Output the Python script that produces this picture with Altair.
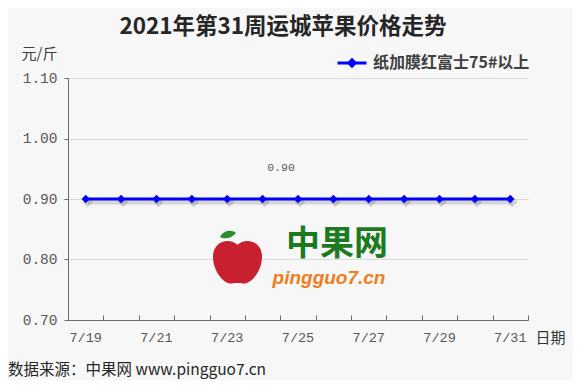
import json
import altair as alt
import pandas as pd

# ---- data ----
dates = ['7/19', '7/20', '7/21', '7/22', '7/23', '7/24', '7/25',
         '7/26', '7/27', '7/28', '7/29', '7/30', '7/31']
prices = [0.90, 0.90, 0.90, 0.90, 0.90, 0.90, 0.90,
          0.90, 0.90, 0.90, 0.90, 0.90, 0.90]
series_name = '纸加膜红富士75#以上'
label_dates = ['7/19', '7/21', '7/23', '7/25', '7/27', '7/29', '7/31']
y_ticks = [0.70, 0.80, 0.90, 1.00, 1.10]
y_domain = [0.70, 1.10]
labeled_date = '7/25'
title_text = '2021年第31周运城苹果价格走势'
footer_text = '数据来源：中果网 www.pingguo7.cn'

df = pd.DataFrame({'date': dates, 'price': prices, 'series': series_name})
one = pd.DataFrame({'k': [0]})

CJK = 'Noto Sans CJK SC'
MONO = 'Liberation Mono'
BLUE = '#0000ff'
LABEL_GRAY = '#595959'
AXIS_GRAY = '#6b6b6b'

x_scale = alt.Scale(type='band', domain=dates, paddingInner=0, paddingOuter=0)
y_scale = alt.Scale(domain=y_domain, nice=False, zero=False)

label_expr = "indexof(" + json.dumps(label_dates) + ", datum.value) >= 0 ? datum.label : ''"

x_main = alt.X('date:N', sort=dates, scale=x_scale, axis=alt.Axis(
    orient='bottom', title='日期', titleAngle=0, titleX=467, titleY=22,
    titleAlign='left', titleBaseline='alphabetic', titleFont=CJK,
    titleFontSize=15, titleFontWeight='normal', titleColor='#333333',
    labelExpr=label_expr, labelAngle=0, labelFont=MONO, labelFontSize=13.5,
    labelColor=LABEL_GRAY, labelPadding=10, labelBaseline='top',
    ticks=False, domainColor=AXIS_GRAY, domainWidth=1, grid=False))

x_ticks = alt.X('date:N', sort=dates, scale=x_scale, axis=alt.Axis(
    orient='bottom', offset=-5, domain=False, labels=False, ticks=True,
    tickSize=5, tickBand='extent', tickColor=AXIS_GRAY, tickWidth=1,
    title=None, grid=False))

x_none = alt.X('date:N', sort=dates, scale=x_scale, axis=None)

y_enc = alt.Y('price:Q', scale=y_scale, axis=alt.Axis(
    values=y_ticks, format='.2f', title='元/斤', titleAngle=0,
    titleX=-47, titleY=-20, titleAlign='left', titleBaseline='alphabetic',
    titleFont=CJK, titleFontSize=15, titleFontWeight='normal',
    titleColor='#404040', labelFont=MONO, labelFontSize=14.5,
    labelColor=LABEL_GRAY, labelPadding=7, tickSize=4, tickColor=AXIS_GRAY,
    domainColor=AXIS_GRAY, gridColor='#d9d9d9', gridWidth=1, grid=True))

LEGEND_PATH = 'M-1,0L1,0M0,-0.22L0.22,0L0,0.22L-0.22,0Z'

base = alt.Chart(df)

shadow_line = base.mark_line(color='#000000', opacity=0.13, strokeWidth=5,
                             xOffset=2, yOffset=3).encode(x=x_none, y=y_enc)
shadow_pts = base.mark_point(shape='diamond', filled=True, color='#000000',
                             opacity=0.15, size=110, xOffset=2, yOffset=3
                             ).encode(x=x_none, y=y_enc)

line = base.mark_line(strokeWidth=3).encode(
    x=x_main, y=y_enc,
    color=alt.Color('series:N', scale=alt.Scale(domain=[series_name], range=[BLUE]),
                    legend=alt.Legend(
                        orient='none', legendX=268, legendY=-31, title=None,
                        symbolType=LEGEND_PATH, symbolSize=841,
                        symbolStrokeWidth=3, symbolFillColor=BLUE,
                        symbolStrokeColor=BLUE,
                        labelFont=CJK, labelFontSize=16, labelFontWeight='bold',
                        labelColor='#404040', labelOffset=5, padding=0,
                        labelLimit=400)))

points = base.mark_point(shape='diamond', filled=True, color=BLUE, size=70,
                         opacity=1).encode(x=x_ticks, y=y_enc)

data_label = base.transform_filter(
    alt.datum.date == labeled_date
).mark_text(font=MONO, fontSize=11.5, color=LABEL_GRAY, dx=-17, dy=-31,
            baseline='middle').encode(
    x=x_none, y=y_enc, text=alt.Text('price:Q', format='.2f'))

# ---- decorative watermark (logo) ----
APPLE = ('M0,-0.55 C0.3,-0.85 0.95,-0.7 0.95,-0.1 C0.95,0.5 0.5,1 0.2,0.95 '
         'C0.1,0.93 -0.1,0.93 -0.2,0.95 C-0.5,1 -0.95,0.5 -0.95,-0.1 '
         'C-0.95,-0.7 -0.3,-0.85 0,-0.55 Z')
LEAF = 'M-1,0.3 C-0.5,-0.6 0.5,-0.6 1,-0.2 C0.5,0.5 -0.5,0.6 -1,0.3Z'

apple = alt.Chart(one).mark_point(shape=APPLE, filled=True, fill='#c8202f',
                                  opacity=1, size=2660).encode(
    x=alt.value(169.5), y=alt.value(181))
leaf = alt.Chart(one).mark_point(shape=LEAF, filled=True, fill='#2e8b2e',
                                 opacity=1, size=256).encode(
    x=alt.value(160), y=alt.value(156.5))
wm_cn = alt.Chart(one).mark_text(font=CJK, fontSize=34, fontWeight='bold',
                                 color='#1d7a1f', align='center',
                                 baseline='middle').encode(
    x=alt.value(269), y=alt.value(167), text=alt.value('中果网'))
wm_en = alt.Chart(one).mark_text(font='Liberation Sans', fontSize=19,
                                 fontWeight='bold', fontStyle='italic',
                                 color='#f07c1c', align='center',
                                 baseline='alphabetic').encode(
    x=alt.value(261), y=alt.value(206), text=alt.value('pingguo7.cn'))

title = alt.Chart(one).mark_text(font=CJK, fontSize=22.5, fontWeight='bold',
                                 color='#262626', align='center',
                                 baseline='alphabetic').encode(
    x=alt.value(215), y=alt.value(-44), text=alt.value(title_text))
footer = alt.Chart(one).mark_text(font=CJK, fontSize=15.5, color='#262626',
                                  align='left', baseline='alphabetic').encode(
    x=alt.value(-60), y=alt.value(297), text=alt.value(footer_text))

chart = alt.layer(
    apple, leaf, wm_cn, wm_en,
    shadow_line, shadow_pts, line, points, data_label,
    title, footer
).resolve_axis(x='independent').properties(
    width=460, height=242, autosize='none',
    padding={'left': 60, 'top': 70, 'right': 45, 'bottom': 60},
    background='#f7f7f7'
).configure_view(stroke=None)

chart.save('out.html', embed_options={'renderer': 'svg', 'actions': False})
